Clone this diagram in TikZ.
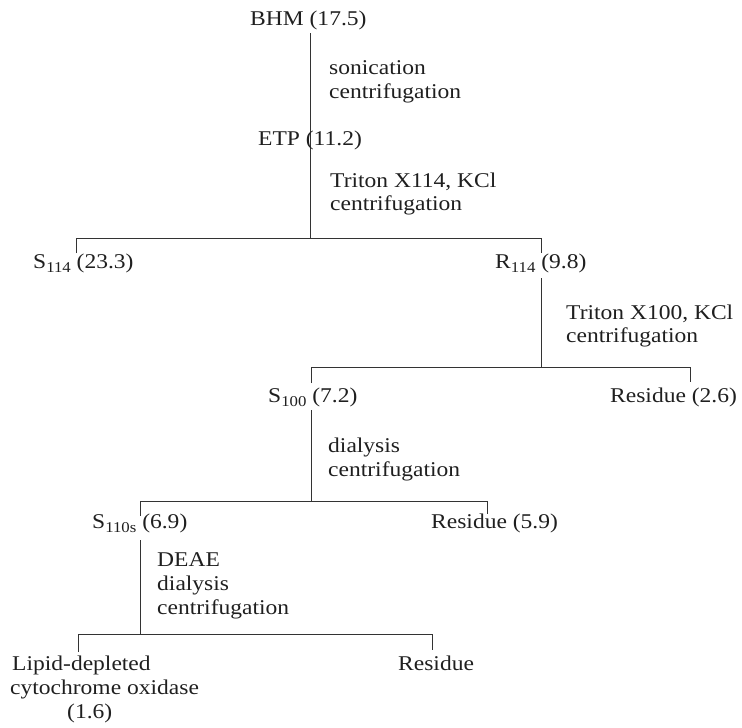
\documentclass[tikz,border=0pt]{standalone}
\usepackage{fontspec}
\setmainfont{Liberation Serif}[FakeStretch=1.12]
\newcommand\sbs[1]{\raisebox{-4pt}{\fontsize{15}{16}\selectfont #1}}
\begin{document}
\begin{tikzpicture}[x=1pt,y=-1pt,
  lbl/.style={font=\fontsize{21}{24}\selectfont, inner sep=0pt, anchor=base west, text=black!88},
  conn/.style={line width=0.75pt, draw=black!80}]
\useasboundingbox (0,0) rectangle (742,728);
% junction coordinates
\coordinate (a0) at (310,33);
\coordinate (a1) at (310,238);
\coordinate (bL) at (76,238);
\coordinate (bR) at (541,238);
\coordinate (bLd) at (76,253);
\coordinate (bRd) at (541,253);
\coordinate (r0) at (541,278);
\coordinate (r1) at (541,367);
\coordinate (cL) at (311,367);
\coordinate (cR) at (690,367);
\coordinate (cLd) at (311,383);
\coordinate (cRd) at (690,382);
\coordinate (s0) at (311,410);
\coordinate (s1) at (311,501);
\coordinate (dL) at (140,501);
\coordinate (dR) at (487,501);
\coordinate (dLd) at (140,516);
\coordinate (dRd) at (487,514);
\coordinate (t0) at (140,540);
\coordinate (t1) at (140,634);
\coordinate (eL) at (78,634);
\coordinate (eR) at (432,634);
\coordinate (eLd) at (78,652);
\coordinate (eRd) at (432,650);
% connectors
\draw[conn] (a0) -- (a1);
\draw[conn] (bLd) -- (bL) -- (bR) -- (bRd);
\draw[conn] (r0) -- (r1);
\draw[conn] (cLd) -- (cL) -- (cR) -- (cRd);
\draw[conn] (s0) -- (s1);
\draw[conn] (dLd) -- (dL) -- (dR) -- (dRd);
\draw[conn] (t0) -- (t1);
\draw[conn] (eLd) -- (eL) -- (eR) -- (eRd);
% labels
\node[lbl] (bhm) at (250,25) {BHM (17.5)};
\node[lbl] (son1) at (329,74) {sonication};
\node[lbl] (son2) at (329,98) {centrifugation};
\node[lbl] (etp) at (258,145) {ETP (11.2)};
\node[lbl] (tri1) at (330,187) {Triton X114, KCl};
\node[lbl] (tri2) at (330,210) {centrifugation};
\node[lbl] (s114) at (33,268) {S\sbs{114} (23.3)};
\node[lbl] (r114) at (495,268) {R\sbs{114} (9.8)};
\node[lbl] (trc1) at (566,319) {Triton X100, KCl};
\node[lbl] (trc2) at (566,342) {centrifugation};
\node[lbl] (s100) at (268,402) {S\sbs{100} (7.2)};
\node[lbl] (res1) at (610,402) {Residue (2.6)};
\node[lbl] (dia1) at (328,452) {dialysis};
\node[lbl] (dia2) at (328,476) {centrifugation};
\node[lbl] (s110) at (92,528) {S\sbs{110s} (6.9)};
\node[lbl] (res2) at (431,528) {Residue (5.9)};
\node[lbl] (deae1) at (157,566) {DEAE};
\node[lbl] (deae2) at (157,590) {dialysis};
\node[lbl] (deae3) at (157,614) {centrifugation};
\node[lbl] (lip1) at (12,670) {Lipid-depleted};
\node[lbl] (lip2) at (10,694) {cytochrome oxidase};
\node[lbl] (lip3) at (67,718) {(1.6)};
\node[lbl] (res3) at (398,670) {Residue};
\end{tikzpicture}
\end{document}
